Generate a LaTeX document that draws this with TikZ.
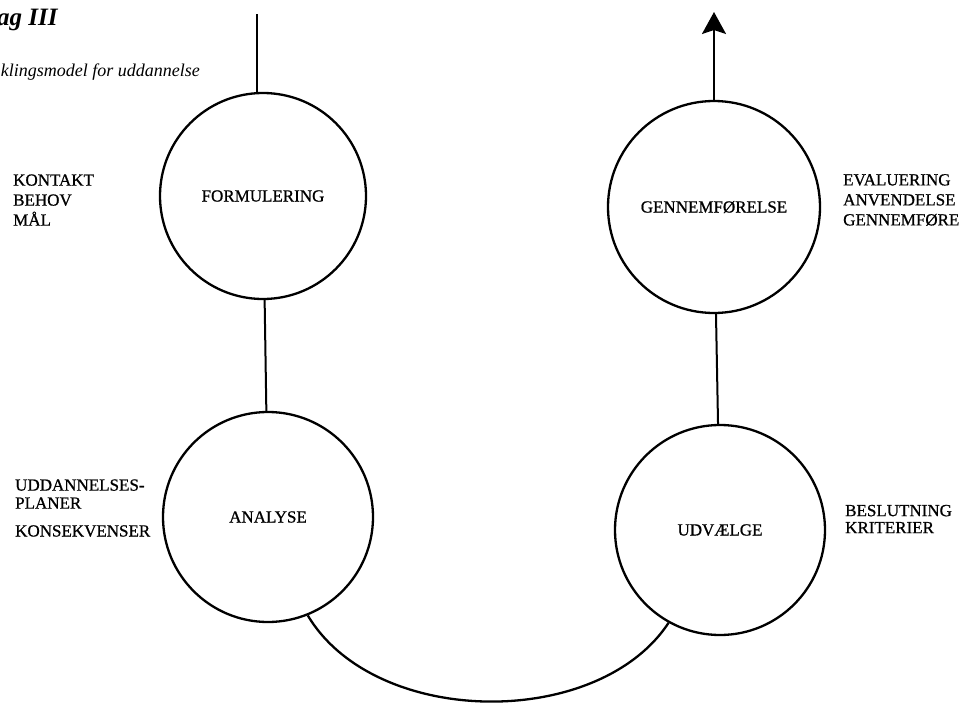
\documentclass[tikz,border=0pt]{standalone}
\usepackage{fontspec}
\setmainfont{Liberation Serif}
\newfontfamily\lblfont{Liberation Serif}[FakeBold=0.8]
\usetikzlibrary{arrows.meta}
\begin{document}
\begin{tikzpicture}[x=1pt,y=-1pt,
  stage/.style={circle,draw,line width=2.3pt,inner sep=0pt,minimum size=#1,font=\lblfont\fontsize{17}{20}\selectfont},
  lbl/.style={anchor=west,align=left,inner sep=0pt,font=\lblfont\fontsize{17}{20}\selectfont},
  conn/.style={line width=2pt}]
\useasboundingbox (0,0) rectangle (962,704);
% title
\node[anchor=base west,inner sep=0pt,font=\fontsize{25}{30}\selectfont\bfseries\itshape] (title) at (-3,25) {ag III};
\node[anchor=base east,inner sep=0pt,font=\fontsize{18}{20}\selectfont\itshape] (subtitle) at (200,76) {klingsmodel for uddannelse};
% circles
\node[stage=206pt] (F) at (263,196) {FORMULERING};
\node[stage=210pt] (A) at (268,517) {ANALYSE};
\node[stage=212pt] (G) at (714,207) {GENNEMFØRELSE};
\node[stage=210pt] (U) at (720,530) {UDVÆLGE};
% side labels
\node[lbl] (l1) at (13,200) {KONTAKT\\BEHOV\\MÅL};
\node[lbl] (l2) at (15,494) {UDDANNELSES-\\[-2pt]PLANER};
\node[lbl] (l3) at (15,531) {KONSEKVENSER};
\node[lbl] (r1) at (843,200) {EVALUERING\\ANVENDELSE\\GENNEMFØRE};
\node[lbl] (r2) at (845,519) {BESLUTNING\\[-3pt]KRITERIER};
% connectors
\coordinate (top) at (257,14);
\coordinate (tip) at (714,12);
\draw[conn] (top) -- (top |- F.north);
\draw[conn] (F) -- (A);
\draw[conn] (G) -- (U);
\draw[conn,-{Stealth[length=22pt,width=24pt,inset=4pt]}] (G.north) -- (tip);
\draw[conn,line width=2.3pt] (A.-68) .. controls (375,728) and (598,730) .. (U.-119);
\end{tikzpicture}
\end{document}
